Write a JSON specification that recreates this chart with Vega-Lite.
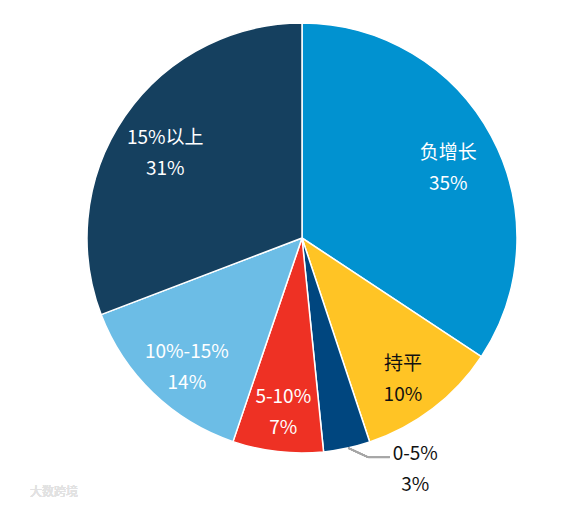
{
  "$schema": "https://vega.github.io/schema/vega-lite/v6.json",
  "autosize": {"type": "none"},
  "width": 540,
  "height": 476,
  "padding": {"left": 32, "top": 0, "right": 0, "bottom": 30},
  "background": "white",
  "config": {"view": {"stroke": null}, "font": "Noto Sans CJK SC"},
  "data": {"values": [
    {"i": 1, "cat": "负增长", "value": 34.3, "label": "负增长\n35%"},
    {"i": 2, "cat": "持平", "value": 10.6, "label": "持平\n10%"},
    {"i": 3, "cat": "0-5%", "value": 3.5, "label": "0-5%\n3%"},
    {"i": 4, "cat": "5-10%", "value": 6.8, "label": "5-10%\n7%"},
    {"i": 5, "cat": "10%-15%", "value": 14.0, "label": "10%-15%\n14%"},
    {"i": 6, "cat": "15%以上", "value": 30.8, "label": "15%以上\n31%"}
  ]},
  "layer": [
    {
      "mark": {"type": "arc", "outerRadius": 215, "stroke": "white", "strokeWidth": 1.5},
      "encoding": {
        "theta": {"field": "value", "type": "quantitative", "stack": true},
        "order": {"field": "i", "type": "quantitative"},
        "color": {"field": "cat", "type": "nominal", "legend": null,
          "scale": {"domain": ["负增长", "持平", "0-5%", "5-10%", "10%-15%", "15%以上"],
                    "range": ["#0192D0", "#FFC425", "#00467F", "#EE3124", "#6CBDE6", "#15405F"]}}
      }
    },
    {
      "mark": {"type": "text", "radius": 166, "dy": -6, "fontSize": 19, "lineHeight": 31, "lineBreak": "\n", "align": "center", "baseline": "middle"},
      "encoding": {
        "theta": {"field": "value", "type": "quantitative", "stack": true},
        "order": {"field": "i", "type": "quantitative"},
        "detail": {"field": "cat", "type": "nominal"},
        "text": {"field": "label"},
        "color": {"condition": {"test": "datum.cat === '持平'", "value": "#111111"}, "value": "#FFFFFF"},
        "opacity": {"condition": {"test": "datum.cat === '0-5%'", "value": 0}, "value": 1}
      }
    },
    {
      "mark": {"type": "text", "radius": 250, "dx": 61, "dy": -28, "fontSize": 19, "lineHeight": 31, "lineBreak": "\n", "align": "center", "baseline": "middle", "color": "#111111"},
      "encoding": {
        "theta": {"field": "value", "type": "quantitative", "stack": true},
        "order": {"field": "i", "type": "quantitative"},
        "detail": {"field": "cat", "type": "nominal"},
        "text": {"field": "label"},
        "opacity": {"condition": {"test": "datum.cat === '0-5%'", "value": 1}, "value": 0}
      }
    },
    {
      "mark": {"type": "rule", "stroke": "#A6A6A6", "strokeWidth": 1.5},
      "encoding": {
        "x": {"datum": 0.215, "type": "quantitative", "scale": {"domain": [-1.2558, 1.2558], "nice": false, "zero": false}, "axis": null},
        "x2": {"datum": 0.308},
        "y": {"datum": -0.977, "type": "quantitative", "scale": {"domain": [-1.107, 1.107], "nice": false, "zero": false}, "axis": null},
        "y2": {"datum": -1.020}
      }
    },
    {
      "mark": {"type": "rule", "stroke": "#A6A6A6", "strokeWidth": 1.5},
      "encoding": {
        "x": {"datum": 0.308, "type": "quantitative", "scale": {"domain": [-1.2558, 1.2558], "nice": false, "zero": false}, "axis": null},
        "x2": {"datum": 0.409},
        "y": {"datum": -1.020, "type": "quantitative", "scale": {"domain": [-1.107, 1.107], "nice": false, "zero": false}, "axis": null}
      }
    },
    {
      "mark": {"type": "text", "text": "大数跨境", "align": "left", "baseline": "middle", "fontSize": 12, "color": "#E2E2E2"},
      "encoding": {
        "x": {"datum": -1.265, "type": "quantitative", "scale": {"domain": [-1.2558, 1.2558], "nice": false, "zero": false}, "axis": null},
        "y": {"datum": -1.181, "type": "quantitative", "scale": {"domain": [-1.107, 1.107], "nice": false, "zero": false}, "axis": null}
      }
    }
  ]
}
